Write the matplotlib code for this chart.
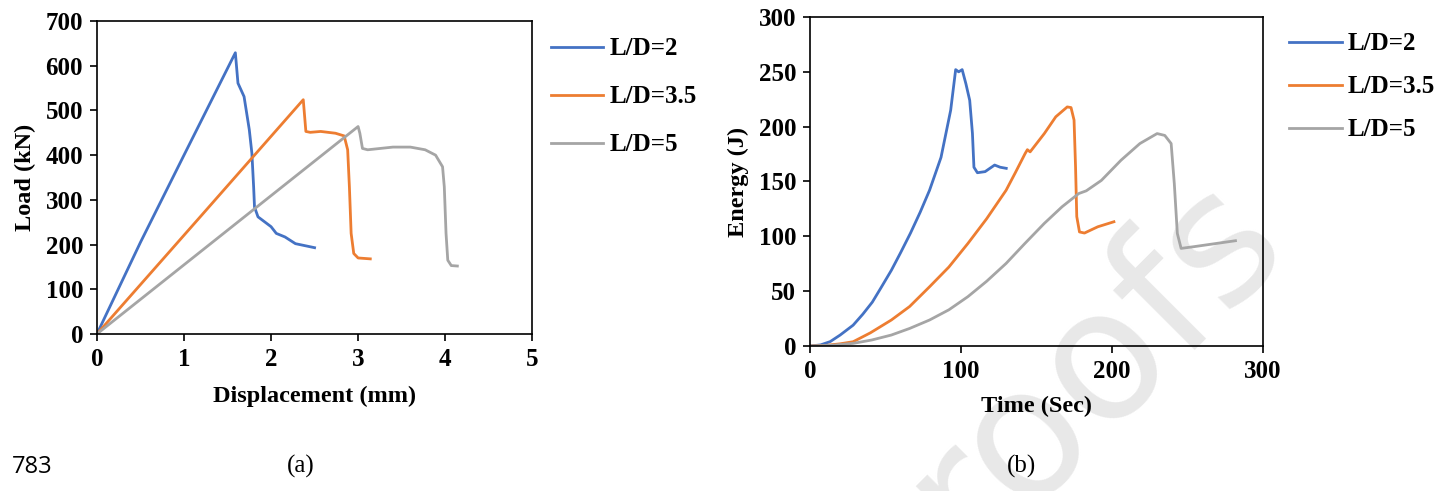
import matplotlib
matplotlib.use("Agg")
import matplotlib.pyplot as plt

plt.rcParams['font.family'] = ['Liberation Serif', 'DejaVu Serif']

# (a) load - displacement
disp_ld2 = [0, 0.5, 1.0, 1.59, 1.62, 1.69, 1.75, 1.78, 1.80, 1.81, 1.85, 2.0, 2.06, 2.16, 2.28, 2.50]
load_ld2 = [0, 205, 400, 629, 561, 531, 457, 404, 329, 284, 262, 240, 225, 217, 202, 193]
disp_ld35 = [0, 1.2, 2.37, 2.40, 2.45, 2.57, 2.74, 2.84, 2.88, 2.90, 2.92, 2.95, 3.00, 3.14]
load_ld35 = [0, 265, 524, 453, 451, 453, 449, 443, 412, 329, 225, 180, 170, 168]
disp_ld5 = [0, 1.5, 3.0, 3.02, 3.05, 3.11, 3.40, 3.60, 3.77, 3.89, 3.97, 3.99, 4.01, 4.03, 4.07, 4.14]
load_ld5 = [0, 232, 464, 449, 415, 412, 418, 418, 412, 400, 374, 329, 225, 165, 153, 152]

# (b) energy - time
t_ld2 = [0, 7, 13.4, 20, 28.6, 35, 41.3, 47, 53.9, 60, 66.6, 73, 79.2, 86.8, 93.2, 96.5, 98.5,
         100.8, 103.3, 105.8, 107.6, 108.6, 110.9, 116, 122.3, 126, 130]
e_ld2 = [0, 1, 4, 10, 19, 29, 40, 53, 69, 85, 103, 122, 142, 172, 215, 252, 250,
         252, 239, 224, 194, 163, 158, 159, 165, 163, 162]
t_ld35 = [0, 10, 20, 28.6, 40, 53.9, 66, 79.2, 92, 104.6, 117, 129.9, 136, 142.5, 144, 145.8,
          155.2, 162.8, 170.4, 172.9, 174.9, 175.9, 176.7, 178.5, 181.8, 190.6, 201.3]
e_ld35 = [0, 0.5, 2, 3.9, 12, 23.7, 36, 54, 72, 93.5, 116, 142, 158, 175.5, 179, 177,
          193.7, 209, 218, 217.4, 206, 163, 118, 104, 103, 108.7, 113.3]
t_ld5 = [0, 15, 28.6, 41, 53.9, 66, 79.2, 92, 104.6, 117, 129.9, 142, 155.2, 167, 178, 183, 193,
         206, 218.5, 229.9, 235, 239.2, 241.3, 243.3, 245.8, 253.9, 261.5, 281.8]
e_ld5 = [0, 0.7, 2.4, 5.5, 10, 16, 23.7, 33, 45, 59, 75.3, 93, 111.8, 127, 139, 141.5, 151,
         169.4, 184.6, 193.7, 192, 184.6, 148, 102.6, 89, 90.5, 92, 96]

labels = ['L/D=2', 'L/D=3.5', 'L/D=5']
colors = ['#4472C4', '#ED7D31', '#A5A5A5']

fig = plt.figure(figsize=(14.51, 4.91), dpi=100)
ax1 = fig.add_axes([0.0668, 0.3198, 0.300, 0.6374])
ax2 = fig.add_axes([0.5582, 0.2953, 0.3122, 0.6701])

# watermark behind everything
fig.text(0.7536, 0.2617, 'roofs', fontsize=130, color='#e8e8e8', rotation=45,
         family='DejaVu Sans', ha='center', va='center', zorder=-1)

for x, y, c, l in zip([disp_ld2, disp_ld35, disp_ld5], [load_ld2, load_ld35, load_ld5], colors, labels):
    ax1.plot(x, y, color=c, lw=2, label=l)
for x, y, c, l in zip([t_ld2, t_ld35, t_ld5], [e_ld2, e_ld35, e_ld5], colors, labels):
    ax2.plot(x, y, color=c, lw=2, label=l)

ax1.set_xlim(0, 5)
ax1.set_ylim(0, 700)
ax1.set_xticks(range(0, 6))
ax1.set_yticks(range(0, 701, 100))
ax1.set_xlabel('Displacement (mm)', fontsize=17.5, fontweight='bold', labelpad=11)
ax1.set_ylabel('Load (kN)', fontsize=17.5, fontweight='bold', labelpad=7)

ax2.set_xlim(0, 300)
ax2.set_ylim(0, 300)
ax2.set_xticks(range(0, 301, 100))
ax2.set_yticks(range(0, 301, 50))
ax2.set_xlabel('Time (Sec)', fontsize=17.5, fontweight='bold', labelpad=9)
ax2.set_ylabel('Energy (J)', fontsize=17.5, fontweight='bold', labelpad=7)

for ax in (ax1, ax2):
    ax.set_facecolor('none')
    ax.tick_params(direction='out', length=5, width=1.2, labelsize=18, pad=5)
    for lab in ax.get_xticklabels() + ax.get_yticklabels():
        lab.set_fontweight('bold')
    for s in ax.spines.values():
        s.set_linewidth(1.2)

fig.legend(*ax1.get_legend_handles_labels(), loc='upper left', bbox_to_anchor=(0.3796, 0.924),
           frameon=False, handlelength=2.1, handletextpad=0.25, labelspacing=1.0,
           borderaxespad=0, borderpad=0, prop={'weight': 'bold', 'size': 18})
fig.legend(*ax2.get_legend_handles_labels(), loc='upper left', bbox_to_anchor=(0.8885, 0.934),
           frameon=False, handlelength=2.1, handletextpad=0.25, labelspacing=0.8,
           borderaxespad=0, borderpad=0, prop={'weight': 'bold', 'size': 18})

fig.text(0.207, 0.049, '(a)', fontsize=18, ha='center', va='center')
fig.text(0.704, 0.049, '(b)', fontsize=18, ha='center', va='center')
fig.text(0.008, 0.049, '783', fontsize=17, ha='left', va='center', family='Open Sans')

fig.savefig('out.png', dpi=100)
